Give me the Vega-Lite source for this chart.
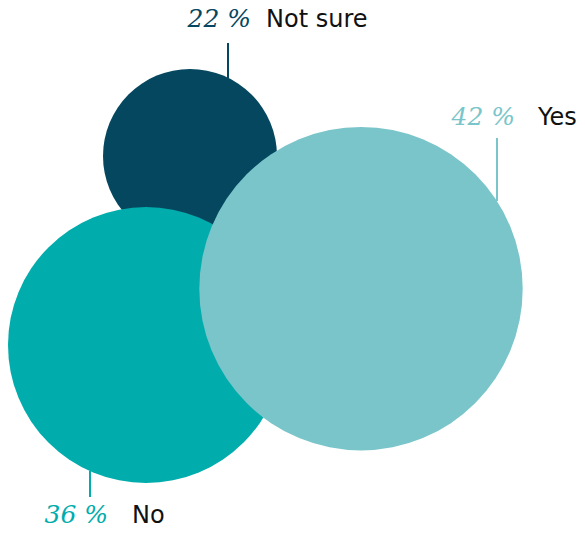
{
  "$schema": "https://vega.github.io/schema/vega-lite/v6.json",
  "width": 585,
  "height": 533,
  "autosize": "none",
  "padding": 0,
  "background": "white",
  "config": {"view": {"stroke": null}},
  "data": {
    "values": [
      {"cat": "Not sure", "pct": 22, "label": "22 %", "cx": 190, "cy": 156, "lx": 228, "ly1": 43, "ly2": 78, "px": 251, "nx": 266, "ty": 27},
      {"cat": "No", "pct": 36, "label": "36 %", "cx": 146, "cy": 345, "lx": 90, "ly1": 471, "ly2": 497, "px": 108, "nx": 132, "ty": 523},
      {"cat": "Yes", "pct": 42, "label": "42 %", "cx": 361, "cy": 288.7, "lx": 497, "ly1": 138, "ly2": 201, "px": 515, "nx": 538, "ty": 125}
    ]
  },
  "encoding": {
    "color": {
      "field": "cat", "type": "nominal", "legend": null,
      "scale": {"domain": ["Not sure", "No", "Yes"], "range": ["#04475f", "#00acac", "#7ac5ca"]}
    }
  },
  "layer": [
    {
      "mark": {"type": "point", "shape": "circle", "filled": true, "opacity": 1, "strokeWidth": 0},
      "encoding": {
        "x": {"field": "cx", "type": "quantitative", "axis": null, "scale": {"domain": [0, 585], "nice": false, "zero": false}},
        "y": {"field": "cy", "type": "quantitative", "axis": null, "scale": {"domain": [0, 533], "nice": false, "zero": false, "reverse": true}},
        "size": {"field": "pct", "type": "quantitative", "legend": null, "scale": {"type": "linear", "domain": [22, 36, 42], "range": [30276, 76176, 104588], "zero": false, "nice": false}},
        "order": {"field": "pct", "type": "quantitative"}
      }
    },
    {
      "mark": {"type": "rule", "strokeWidth": 2},
      "encoding": {
        "x": {"field": "lx", "type": "quantitative"},
        "y": {"field": "ly1", "type": "quantitative"},
        "y2": {"field": "ly2"}
      }
    },
    {
      "mark": {"type": "text", "align": "right", "baseline": "alphabetic", "font": "DejaVu Serif", "fontStyle": "italic", "fontSize": 25},
      "encoding": {
        "x": {"field": "px", "type": "quantitative"},
        "y": {"field": "ty", "type": "quantitative"},
        "text": {"field": "label"}
      }
    },
    {
      "mark": {"type": "text", "align": "left", "baseline": "alphabetic", "font": "DejaVu Sans", "fontSize": 24},
      "encoding": {
        "x": {"field": "nx", "type": "quantitative"},
        "y": {"field": "ty", "type": "quantitative"},
        "text": {"field": "cat"},
        "color": {"value": "#111111"}
      }
    }
  ]
}
